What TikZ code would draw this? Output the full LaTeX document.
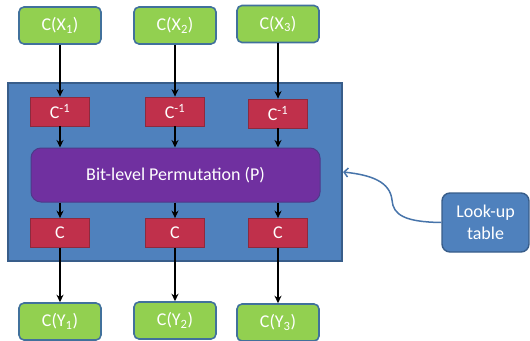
\documentclass[tikz,border=0pt]{standalone}
\usepackage{fontspec}
\setmainfont{Carlito}
\usetikzlibrary{arrows.meta}
\definecolor{leafgreen}{HTML}{92D050}
\definecolor{boxblue}{HTML}{4F81BD}
\definecolor{edgeblue}{HTML}{41719C}
\definecolor{frameedge}{HTML}{385D8A}
\definecolor{sboxred}{HTML}{C0304B}
\definecolor{sboxedge}{HTML}{8C2A3E}
\definecolor{permpurple}{HTML}{7030A0}
\definecolor{permedge}{HTML}{4E3A8A}

\begin{document}
\begin{tikzpicture}[x=1pt,y=-1pt,>={Stealth[length=7.5pt,width=7pt]},line width=1.6pt,
    every node/.style={font=\fontsize{18}{22}\selectfont,text=white},
    io node/.style={rectangle,rounded corners=5pt,draw=edgeblue,line width=1.6pt,fill=leafgreen,minimum width=82pt,minimum height=37pt},
    sbox node/.style={rectangle,draw=sboxedge,line width=0.8pt,fill=sboxred,minimum width=59pt,minimum height=29pt},
    perm node/.style={rectangle,rounded corners=10pt,draw=permedge,line width=1pt,fill=permpurple,minimum width=289pt,minimum height=54pt},
    frame node/.style={rectangle,draw=frameedge,line width=1.2pt,fill=boxblue,minimum width=334pt,minimum height=178pt},
    lut node/.style={rectangle,rounded corners=8pt,draw=frameedge,line width=1.4pt,fill=boxblue,align=center,minimum width=87pt,minimum height=59pt,inner sep=2pt},
    lut edge/.style={-{Straight Barb[length=4pt,width=9pt]},draw=boxblue!90!black,line width=1.5pt}]
    \useasboundingbox (0,0) rectangle (530,340);

    \node[frame node] (frame) at (175,172) {};

    \node[io node] (x1) at (60,25.5) {C(X\textsubscript{1})};
    \node[io node] (x2) at (175,25.5) {C(X\textsubscript{2})};
    \node[io node] (x3) at (278,24) {C(X\textsubscript{3})};

    \node[sbox node] (ci1) at (60,111.5) {C\textsuperscript{-1}};
    \node[sbox node] (ci2) at (175,111.5) {C\textsuperscript{-1}};
    \node[sbox node] (ci3) at (278,113.5) {C\textsuperscript{-1}};

    \node[perm node] (perm) at (175.5,175) {Bit-level Permutation (P)};

    \node[sbox node] (c1) at (60,233) {C};
    \node[sbox node] (c2) at (175,233) {C};
    \node[sbox node] (c3) at (278,233) {C};

    \node[io node] (y1) at (60,321.5) {C(Y\textsubscript{1})};
    \node[io node] (y2) at (175,320.5) {C(Y\textsubscript{2})};
    \node[io node] (y3) at (278,322.5) {C(Y\textsubscript{3})};

    \node[lut node] (lut) at (485.5,222.5) {Look-up\\table};
    \coordinate (hook) at (343,172);

    \path[->]
        (x1) edge (ci1)
        (x2) edge (ci2)
        (x3) edge (ci3)
        (ci1) edge (ci1 |- perm.north)
        (ci2) edge (ci2 |- perm.north)
        (ci3) edge (ci3 |- perm.north)
        (c1 |- perm.south) edge (c1)
        (c2 |- perm.south) edge (c2)
        (c3 |- perm.south) edge (c3)
        (c1) edge (y1)
        (c2) edge (y2)
        (c3) edge (y3)
        ;

    \draw[lut edge] (lut.west) .. controls (405,222) and (393,215) .. (392,200)
        .. controls (390,182) and (372,175) .. (hook);
\end{tikzpicture}
\end{document}
